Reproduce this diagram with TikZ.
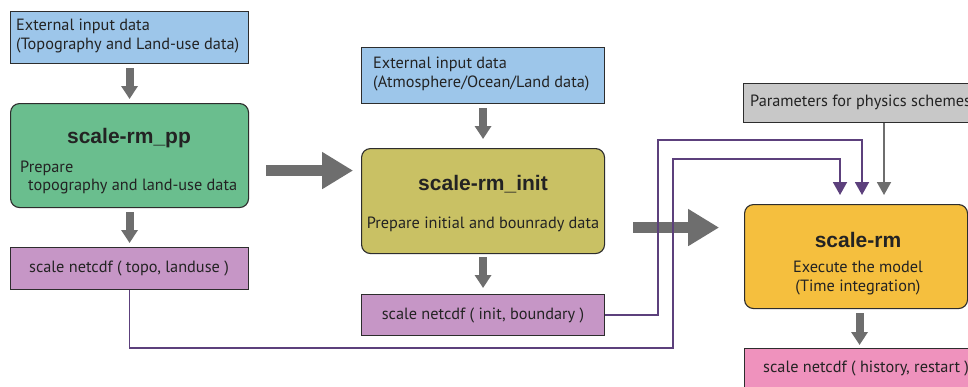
\documentclass[tikz,border=0pt]{standalone}
\usepackage{fontspec}
\setmainfont{PT Sans}
\newfontfamily\titlefont{Liberation Sans}
\usetikzlibrary{arrows.meta,calc}
\definecolor{cblue}{RGB}{157,198,234}
\definecolor{cgreen}{RGB}{106,190,142}
\definecolor{colive}{RGB}{201,193,100}
\definecolor{cpurplebox}{RGB}{198,150,198}
\definecolor{cgraybox}{RGB}{200,200,200}
\definecolor{corange}{RGB}{245,191,62}
\definecolor{cpink}{RGB}{239,146,189}
\definecolor{clink}{RGB}{92,64,124}
\definecolor{carrow}{RGB}{110,110,110}
\definecolor{cborder}{RGB}{45,45,45}
\definecolor{ctext}{RGB}{35,35,35}
\begin{document}
\begin{tikzpicture}[x=1pt,y=-1pt,
  box/.style={draw=cborder, line width=1.1pt, anchor=north west, inner sep=0pt},
  rbox/.style={box, rounded corners=9pt},
  body/.style={font=\fontsize{16.3}{18.5}\selectfont, text=ctext, inner sep=0pt},
  ttl/.style={font=\titlefont\bfseries\fontsize{21}{24}\selectfont, text=ctext, inner sep=0pt},
  garrow/.style={draw=carrow, line width=8pt, -{Triangle[length=13pt,width=16pt]}},
  bigarrow/.style={draw=carrow, line width=11pt, -{Triangle[length=31pt,width=35pt]}},
  link/.style={draw=clink, line width=1.8pt, -{Triangle[length=13pt,width=14pt]}},
  glink/.style={draw=carrow, line width=1.8pt, -{Triangle[length=13pt,width=14pt]}},
]
\clip (0,0) rectangle (968,386);
\fill[white] (0,0) rectangle (968,386);

% column 1
\node[box, fill=cblue, minimum width=238pt, minimum height=52pt] (ext1) at (10,11) {};
\node[body, anchor=west, align=left] (ext1t) at (16,36) {External input data\\(Topography and Land-use data)};
\node[rbox, fill=cgreen, minimum width=238pt, minimum height=104pt] (pp) at (10,103) {};
\node[ttl] (ppt) at (129,138) {scale-rm\_pp};
\node[body, anchor=west] (pps1) at (20,168) {Prepare};
\node[body, anchor=west] (pps2) at (28,187) {topography and land-use data};
\node[box, fill=cpurplebox, minimum width=238pt, minimum height=42pt] (topo) at (10,247) {};
\node[body] (topot) at (129,268) {scale netcdf ( topo, landuse )};

\draw[garrow] ($(ext1.south)+(0,4)$) -- ($(pp.north)+(0,-4)$);
\draw[garrow] ($(pp.south)+(0,4)$) -- ($(topo.north)+(0,-4)$);

% column 2
\node[box, fill=cblue, minimum width=243pt, minimum height=56pt] (ext2) at (361,47) {};
\node[body, anchor=west, align=left] (ext2t) at (373,74) {External input data\\(Atmosphere/Ocean/Land data)};
\node[rbox, fill=colive, minimum width=243pt, minimum height=105pt] (init) at (361,148) {};
\node[ttl] (initt) at (483,184) {scale-rm\_init};
\node[body] (inits) at (483,224) {Prepare initial and bounrady data};
\node[box, fill=cpurplebox, minimum width=243pt, minimum height=41pt] (initnc) at (361,294) {};
\node[body] (initnct) at (483,315) {scale netcdf ( init, boundary )};

\draw[garrow] ($(ext2.south)+(0,4)$) -- ($(init.north)+(0,-9)$);
\draw[garrow] ($(init.south)+(0,3)$) -- ($(initnc.north)+(0,-6)$);

% column 3
\node[box, fill=cgraybox, minimum width=250pt, minimum height=39pt] (param) at (743,83) {};
\node[body, anchor=west] (paramt) at (750,102) {Parameters for physics schemes};
\node[rbox, fill=corange, minimum width=223pt, minimum height=104pt] (rm) at (744,204) {};
\node[ttl] (rmt) at (858,240) {scale-rm};
\node[body, align=center] (rms) at (858,278) {Execute the model\\(Time integration)};
\node[box, fill=cpink, minimum width=250pt, minimum height=50pt] (out) at (744,348) {};
\node[body, anchor=west] (outt) at (763,368) {scale netcdf ( history, restart )};

\draw[garrow] ($(rm.south)+(3.5,4)$) -- ($(rm.south |- out.north)+(3.5,-3)$);

% big arrows
\draw[bigarrow] ($(pp.east)+(17,15)$) -- ++(87,0);
\draw[bigarrow] ($(init.east)+(28,26.5)$) -- ++(86,0);

% links
\draw[link] (topo.south) |- (673,348) |- (840,159) -- ($(rm.north west)+(96,-9)$);
\draw[link] (initnc.east) -| (658,140) -| ($(rm.north west)+(118,-9)$);
\draw[glink] ($(param.south west)+(141,0)$) -- ($(rm.north west)+(140,-9)$);
\end{tikzpicture}
\end{document}
